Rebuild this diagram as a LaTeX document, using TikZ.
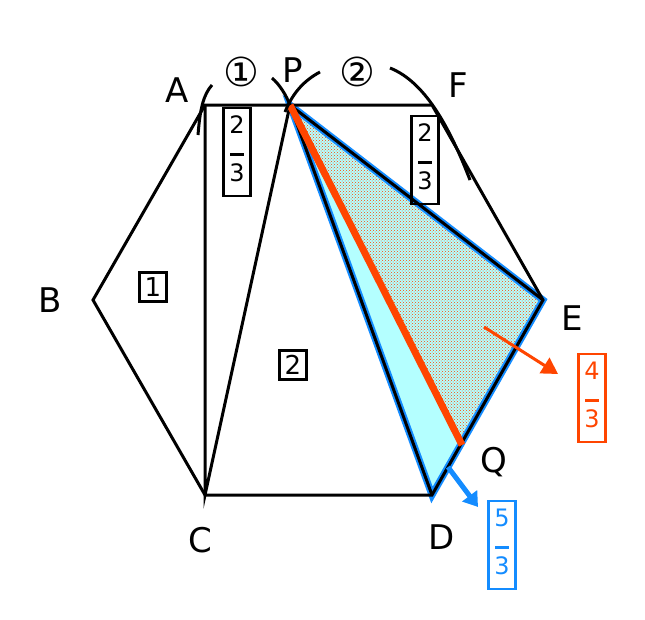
\documentclass[tikz,border=0pt]{standalone}
\usepackage{fontspec}
\setmainfont{DejaVu Sans}
\usetikzlibrary{positioning,arrows.meta,patterns}
\definecolor{hexred}{RGB}{255,69,0}
\definecolor{hexblue}{RGB}{20,140,255}
\definecolor{hexcyan}{RGB}{180,255,255}
\newcommand{\vfrac}[2]{\begin{tabular}{@{}c@{}}#1\\[-6pt]\rule{14pt}{2.5pt}\\[-2pt]#2\end{tabular}}
\tikzset{
pt/.style={font=\fontsize{34}{40}\selectfont, inner sep=0pt},
area/.style={draw, line width=2.5pt, inner sep=5pt, font=\fontsize{26}{30}\selectfont},
frac/.style={area, inner sep=6pt, font=\fontsize{24}{28}\selectfont},
}

\begin{document}
\begin{tikzpicture}[x=1pt, y=-1pt, line width=3pt]
    \useasboundingbox (0,0) rectangle (645,619);
    \coordinate (A) at (205,105);
    \coordinate (F) at (432,105);
    \coordinate (B) at (93,300);
    \coordinate (E) at (543,300);
    \coordinate (C) at (205,495);
    \coordinate (D) at (432,495);
    \coordinate (P) at (290,105);
    \coordinate (Q) at (462,445);

    % shaded triangles
    \fill[hexcyan] (P) -- (D) -- (E) -- cycle;
    \fill[pattern=crosshatch dots, pattern color=hexred] (P) -- (Q) -- (E) -- cycle;
    \draw[hexblue, line width=7pt, line join=miter] (P) -- (D) -- (E) -- cycle;

    % hexagon and cuts
    \draw[line join=miter] (A) -- (F) -- (E) -- (D) -- (C) -- (B) -- cycle;
    \draw (A) -- (C) -- (P) -- (D);
    \draw (P) -- (E);
    \draw[hexred, line width=7pt] (P) -- (Q);

    % arcs
    \draw (198,135) .. controls (200,110) and (203,95) .. (212,85);
    \draw (272,78) .. controls (280,85) and (286,95) .. (290,105);
    \draw (285,112) .. controls (293,92) and (305,80) .. (320,72);
    \draw (390,68) .. controls (420,80) and (445,115) .. (470,180);

    % labels
    \node[pt] (lA) at (177,90) {A};
    \node[pt] (lP) at (293,70) {P};
    \node[pt] (lF) at (458,85) {F};
    \node[pt] (lB) at (50,300) {B};
    \node[pt] (lE) at (572,318) {E};
    \node[pt] (lC) at (200,540) {C};
    \node[pt] (lD) at (442,537) {D};
    \node[pt] (lQ) at (494,462) {Q};
    \node[pt, font=\fontsize{40}{44}\selectfont] (one) at (241,72) {①};
    \node[pt, font=\fontsize{40}{44}\selectfont] (two) at (357,72) {②};

    \node[area] (s1) at (153,287) {1};
    \node[area] (s2) at (293,365) {2};
    \node[frac] (s3) at (237,152) {\vfrac{2}{3}};
    \node[frac] (s4) at (425,160) {\vfrac{2}{3}};
    \node[frac, hexred] (s5) at (592,398) {\vfrac{4}{3}};
    \node[frac, hexblue] (s6) at (502,545) {\vfrac{5}{3}};

    \coordinate (rs) at (484,327);
    \coordinate (bs) at (448,467);
    \draw[hexred, -{Triangle[length=16pt,width=18pt]}] (rs) -- (558,374);
    \draw[hexblue, line width=5pt, -{Triangle[length=14pt,width=18pt]}] (bs) -- (478,507);
\end{tikzpicture}
\end{document}
